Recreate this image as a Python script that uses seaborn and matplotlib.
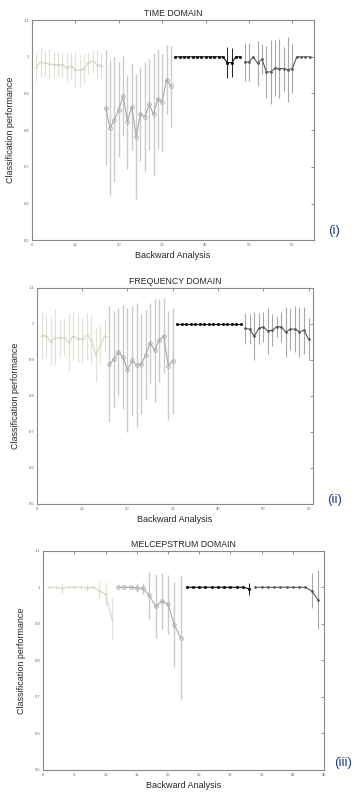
import matplotlib
matplotlib.use("Agg")
import matplotlib.pyplot as plt
import numpy as np
import pandas as pd
import seaborn as sns

# TIME DOMAIN
time_x1 = list(range(1, 17))
time_m1 = [0.973, 0.986, 0.983, 0.980, 0.979, 0.979, 0.979, 0.970, 0.975, 0.964, 0.963, 0.968, 0.984, 0.989, 0.979, 0.976]
time_s1 = [0.038, 0.040, 0.035, 0.040, 0.035, 0.035, 0.035, 0.040, 0.035, 0.050, 0.045, 0.040, 0.030, 0.030, 0.040, 0.035]
time_x2 = list(range(17, 33))
time_m2 = [0.861, 0.805, 0.829, 0.856, 0.893, 0.823, 0.864, 0.782, 0.844, 0.836, 0.870, 0.843, 0.885, 0.876, 0.938, 0.920]
time_s2 = [0.157, 0.185, 0.170, 0.130, 0.108, 0.128, 0.118, 0.171, 0.127, 0.149, 0.123, 0.167, 0.135, 0.133, 0.093, 0.110]
time_x3 = list(range(33, 49))
time_m3 = [1.0] * 12 + [0.984, 0.984, 1.0, 1.0]
time_s3 = [0.0] * 12 + [0.043, 0.039, 0.0, 0.0]
time_x4 = list(range(49, 65))
time_m4 = [0.986, 0.986, 1.0, 0.982, 0.994, 0.959, 0.959, 0.969, 0.968, 0.968, 0.965, 0.968, 1.0, 1.0, 1.0, 1.0]
time_s4 = [0.052, 0.052, 0.0, 0.062, 0.040, 0.071, 0.088, 0.077, 0.080, 0.060, 0.089, 0.067, 0.0, 0.0, 0.0, 0.0]

# FREQUENCY DOMAIN
freq_x1 = list(range(1, 16))
freq_m1 = [0.967, 0.967, 0.950, 0.961, 0.961, 0.962, 0.948, 0.966, 0.959, 0.957, 0.968, 0.955, 0.913, 0.941, 0.967]
freq_s1 = [0.065, 0.058, 0.065, 0.079, 0.052, 0.051, 0.078, 0.068, 0.066, 0.062, 0.066, 0.068, 0.076, 0.052, 0.043]
freq_x2 = list(range(16, 31))
freq_m2 = [0.888, 0.901, 0.921, 0.908, 0.871, 0.898, 0.886, 0.887, 0.912, 0.947, 0.926, 0.954, 0.967, 0.884, 0.897]
freq_s2 = [0.161, 0.134, 0.123, 0.144, 0.172, 0.152, 0.172, 0.139, 0.125, 0.111, 0.142, 0.116, 0.104, 0.151, 0.147]
freq_x3 = list(range(31, 46))
freq_m3 = [1.0] * 15
freq_s3 = [0.0] * 15
freq_x4 = list(range(46, 61))
freq_m4 = [0.987, 0.985, 0.965, 0.987, 0.991, 0.980, 0.982, 0.992, 0.991, 0.977, 0.985, 0.985, 0.978, 0.982, 0.957]
freq_s4 = [0.042, 0.042, 0.067, 0.042, 0.043, 0.065, 0.045, 0.030, 0.042, 0.069, 0.059, 0.063, 0.069, 0.065, 0.059]

# MELCEPSTRUM DOMAIN
mel_x1 = list(range(1, 12))
mel_m1 = [1.0, 1.0, 0.997, 1.0, 1.0, 1.0, 0.998, 1.0, 0.991, 0.981, 0.914]
mel_s1 = [0.0, 0.0, 0.015, 0.0, 0.0, 0.0, 0.007, 0.0, 0.024, 0.033, 0.056]
mel_x2 = list(range(12, 23))
mel_m2 = [1.0, 1.0, 1.0, 0.998, 0.997, 0.978, 0.948, 0.962, 0.953, 0.898, 0.862]
mel_s2 = [0.0, 0.0, 0.0, 0.012, 0.015, 0.065, 0.087, 0.077, 0.080, 0.116, 0.170]
mel_x3 = list(range(23, 34))
mel_m3 = [1.0] * 10 + [0.996]
mel_s3 = [0.0] * 10 + [0.016]
mel_x4 = list(range(34, 45))
mel_m4 = [1.0] * 9 + [0.990, 0.966]
mel_s4 = [0.0] * 9 + [0.048, 0.081]

titles = ["TIME DOMAIN", "FREQUENCY DOMAIN", "MELCEPSTRUM DOMAIN"]
panel_tags = ["(i)", "(ii)", "(iii)"]
y_ticks = [0.5, 0.6, 0.7, 0.8, 0.9, 1.0, 1.1]
y_tick_labels = ["0.5", "0.6", "0.7", "0.8", "0.9", "1", "1.1"]

# line colour, errorbar colour, marker, marker face, marker size, errorbar width
STYLES = [
    ("#d9d5c8", "#e4e1d9", "+", "#d9d5c8", 3.0, 0.9),
    ("#a9a9a9", "#cbcbcb", "o", "none", 2.6, 1.0),
    ("#111111", "#222222", "o", "#111111", 1.6, 0.7),
    ("#5a5a5a", "#a8a8a8", "o", "#5a5a5a", 1.3, 0.8),
]

panels = [
    ([(time_x1, time_m1, time_s1), (time_x2, time_m2, time_s2),
      (time_x3, time_m3, time_s3), (time_x4, time_m4, time_s4)],
     65, list(range(0, 61, 10))),
    ([(freq_x1, freq_m1, freq_s1), (freq_x2, freq_m2, freq_s2),
      (freq_x3, freq_m3, freq_s3), (freq_x4, freq_m4, freq_s4)],
     61, list(range(0, 61, 10))),
    ([(mel_x1, mel_m1, mel_s1), (mel_x2, mel_m2, mel_s2),
      (mel_x3, mel_m3, mel_s3), (mel_x4, mel_m4, mel_s4)],
     45, list(range(0, 46, 5))),
]

sns.set_style("white")
plt.rcParams["font.family"] = ["Liberation Sans", "DejaVu Sans"]

fig = plt.figure(figsize=(3.59, 8.06), dpi=100)
rects = [
    [0.089, 0.702, 0.786, 0.273],
    [0.103, 0.375, 0.769, 0.268],
    [0.120, 0.0447, 0.783, 0.272],
]
tag_pos = [(334, 231), (335, 500), (343, 763)]

for i, (series, xmax, xticks) in enumerate(panels):
    ax = fig.add_axes(rects[i])
    for j, (xs, ms, ss) in enumerate(series):
        color, ecolor, marker, mfc, msize, ew = STYLES[j]
        df = pd.DataFrame({"x": xs, "mean": ms, "std": ss})
        err = df[df["std"] > 0]
        ax.errorbar(err["x"], err["mean"], yerr=err["std"], fmt="none",
                    ecolor=ecolor, elinewidth=ew, capsize=0, zorder=1)
        sns.lineplot(data=df, x="x", y="mean", ax=ax, color=color, lw=0.8,
                     marker=marker, markersize=msize, markerfacecolor=mfc,
                     markeredgecolor=color, markeredgewidth=0.6, zorder=2)
    ax.set_xlim(0, xmax)
    ax.set_ylim(0.5, 1.1)
    ax.set_xticks(xticks)
    ax.set_xticklabels([str(t) for t in xticks])
    ax.set_yticks(y_ticks)
    ax.set_yticklabels(y_tick_labels)
    ax.tick_params(direction="in", length=2, width=0.5, labelsize=3,
                   colors="#666666", top=True, right=True, pad=2)
    for sp in ax.spines.values():
        sp.set_color("#8a8a8a")
        sp.set_linewidth(0.8)
    ax.set_title(titles[i], fontsize=6.3, pad=3)
    ax.set_xlabel("Backward Analysis", fontsize=6.5, labelpad=3)
    ax.set_ylabel("Classification performance", fontsize=6.5, labelpad=6)
    tx, ty = tag_pos[i]
    fig.text(tx / 359, 1 - ty / 806, panel_tags[i], fontsize=9.5,
             color="#1f3d8c", ha="center", va="center")

fig.savefig("out.png", dpi=100)
